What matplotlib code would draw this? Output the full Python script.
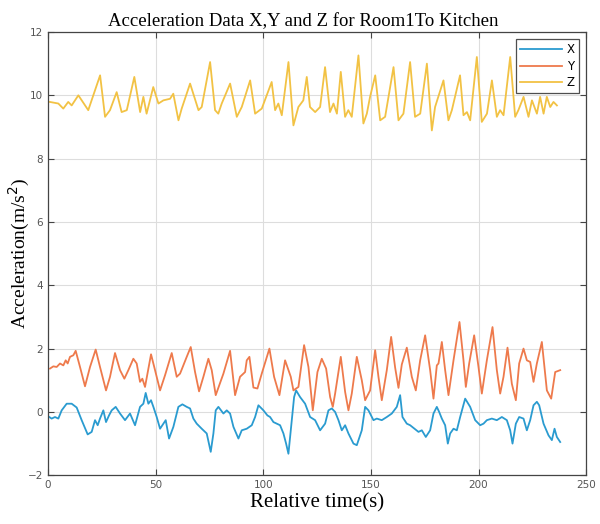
import matplotlib
matplotlib.use("Agg")
import matplotlib.pyplot as plt

# ---- data ----
z_t = [0.9, 4.8, 7.1, 9.4, 11.0, 14.1, 18.7, 24.2, 26.5, 28.8, 31.9, 34.2, 36.6, 40.1, 42.8, 44.3,
       45.8, 48.9, 51.3, 53.6, 56.7, 58.2, 60.6, 62.1, 66.0, 69.9, 71.4, 75.3, 77.6, 79.1, 80.7,
       84.6, 87.7, 90.0, 93.9, 96.2, 99.3, 103.9, 105.5, 107.0, 108.6, 111.7, 114.0, 116.3, 118.6,
       120.2, 121.7, 124.1, 126.4, 128.7, 131.0, 132.6, 134.2, 136.0, 138.0, 139.5, 141.1, 144.2,
       146.5, 148.1, 149.6, 152.0, 154.3, 156.6, 160.5, 162.8, 165.1, 168.2, 170.5, 172.9, 176.0,
       178.3, 179.8, 183.7, 186.0, 187.6, 191.4, 193.0, 194.6, 196.1, 199.2, 201.5, 203.9, 206.2,
       208.5, 210.0, 211.6, 214.7, 217.0, 218.5, 220.9, 223.2, 224.8, 227.1, 228.6, 230.2, 231.7,
       233.3, 234.8, 236.4]
z_v = [9.79, 9.74, 9.58, 9.79, 9.68, 10.0, 9.53, 10.63, 9.32, 9.53, 10.1, 9.47, 9.53, 10.58, 9.47, 9.95,
       9.42, 10.26, 9.74, 9.84, 9.89, 10.05, 9.21, 9.58, 10.37, 9.53, 9.63, 11.05, 9.53, 9.42, 9.74,
       10.37, 9.32, 9.63, 10.47, 9.42, 9.58, 10.42, 9.53, 9.74, 9.37, 11.05, 9.05, 9.63, 9.84,
       10.58, 9.63, 9.47, 9.63, 10.89, 9.47, 9.74, 9.42, 10.74, 9.32, 9.53, 9.32, 11.26,
       9.11, 9.42, 9.95, 10.63, 9.21, 9.32, 10.89, 9.21, 9.42, 11.05, 9.32, 9.42, 11.0,
       8.89, 9.63, 10.47, 9.21, 9.53, 10.63, 9.37, 9.47, 9.21, 11.21, 9.16, 9.42, 10.47,
       9.32, 9.53, 9.37, 11.21, 9.32, 9.53, 9.95, 9.32, 9.84, 9.42, 9.95, 9.42, 9.95,
       9.63, 9.79, 9.68]

y_t = [0.93, 2.48, 4.03, 5.58, 7.13, 8.21, 9.14, 10.22, 11.77, 12.86, 14.87, 17.19, 19.52, 22.15,
       24.16, 26.95, 28.81, 31.13, 33.46, 35.47, 37.33, 39.65, 41.20, 42.75, 43.83, 45.07, 47.86,
       49.72, 52.05, 54.37, 57.47, 59.79, 61.34, 62.11, 64.44, 66.30, 68.31, 70.17, 72.18, 74.50,
       76.05, 77.91, 81.48, 84.58, 86.9, 89.2, 91.55, 92.32, 93.56, 95.42, 97.28, 99.29, 102.85,
       105.02, 107.5, 110.13, 112.77, 114.0, 116.33, 118.96, 120.98, 123.0, 125.16, 127.17,
       129.19, 131.05, 132.29, 133.37, 136.0, 138.02, 139.56, 141.11, 143.44, 145.76, 147.31,
       149.63, 151.96, 153.5, 155.05, 157.38, 159.39, 161.25, 162.8, 164.35, 166.67, 168.99,
       170.85, 172.87, 175.19, 177.51, 179.06, 180.61, 181.39, 182.94, 184.48, 186.03, 188.36,
       191.14, 193.0, 194.09, 195.64, 197.96, 199.97, 201.52, 203.85, 206.48, 208.49, 210.04,
       211.59, 213.45, 215.46, 217.32, 218.87, 220.88, 222.43, 223.98, 225.53, 227.08, 229.4,
       231.73, 233.74, 235.6, 237.92]
y_v = [1.37, 1.44, 1.42, 1.53, 1.47, 1.63, 1.53, 1.74, 1.79, 1.93, 1.42, 0.81, 1.42, 1.97,
       1.42, 0.68, 1.11, 1.86, 1.32, 1.05, 1.32, 1.68, 1.53, 0.95, 1.05, 0.79, 1.82,
       1.32, 0.68, 1.16, 1.86, 1.11, 1.21, 1.34, 1.74, 2.05, 1.26, 0.65, 1.11, 1.68,
       1.32, 0.53, 1.21, 1.93, 0.53, 1.11, 1.26, 1.63, 1.74, 0.77, 0.74, 1.21, 2.0,
       1.11, 0.53, 1.63, 1.11, 0.68, 0.79, 2.11, 1.42, 0.05, 1.26, 1.68,
       1.37, 0.47, 0.16, 0.58, 1.74, 0.63, 0.05, 0.58, 1.74, 1.0, 0.37,
       0.68, 1.95, 1.11, 0.37, 1.32, 2.37, 1.4, 0.76, 1.5, 2.03, 1.11,
       0.68, 1.63, 2.42, 1.32, 0.42, 1.47, 1.53, 2.21, 1.32, 0.53, 1.63,
       2.84, 1.63, 0.79, 1.53, 2.42, 1.42, 0.58, 1.63, 2.68, 1.32, 0.58,
       1.11, 2.03, 0.89, 0.37, 1.53, 2.0, 1.63, 1.58, 0.95, 1.53, 2.21,
       0.68, 0.42, 1.26, 1.32]

x_t = [0.15, 1.70, 3.25, 4.80, 6.35, 8.67, 11.0, 13.32, 15.64, 18.43, 20.29, 21.84, 23.08, 24.16,
       25.71, 26.95, 28.35, 29.58, 31.44, 33.46, 35.78, 38.10, 40.43, 42.75, 44.30, 45.38, 46.62,
       47.86, 48.95, 50.50, 52.05, 53.60, 54.68, 56.23, 58.24, 60.56, 62.42, 64.44, 65.99, 67.53,
       69.08, 71.41, 73.73, 75.59, 76.83, 77.91, 79.15, 81.48, 83.03, 84.58, 86.13, 88.45, 90.0,
       92.32, 94.65, 96.2, 97.74, 100.07, 101.92, 103.16, 104.71, 106.26, 107.81, 109.36, 110.6,
       111.68, 113.23, 114.32, 115.25, 117.1, 119.43, 121.75, 124.07, 126.4, 128.72, 130.27,
       131.82, 133.37, 134.92, 136.47, 138.02, 139.56, 141.89, 143.44, 145.76, 147.31, 148.86,
       151.18, 152.73, 155.05, 157.38, 159.7, 162.02, 163.57, 164.66, 166.67, 168.22, 170.23,
       172.09, 173.64, 175.5, 177.51, 179.06, 180.61, 181.7, 182.94, 184.48, 185.72, 186.81,
       188.36, 189.91, 191.45, 193.78, 196.1, 198.43, 200.75, 202.3, 203.85, 206.17, 208.49,
       210.82, 213.14, 214.69, 215.77, 217.32, 218.87, 220.88, 222.43, 223.98, 225.53, 227.08,
       228.16, 230.18, 232.5, 234.05, 235.29, 236.37, 237.92]
x_v = [-0.14, -0.21, -0.16, -0.21, 0.05, 0.26, 0.26, 0.14, -0.26, -0.71, -0.63, -0.26, -0.42, -0.21,
       0.05, -0.32, -0.11, 0.05, 0.16, -0.05, -0.26, -0.05, -0.42, 0.16, 0.26, 0.6, 0.26,
       0.37, 0.16, -0.16, -0.53, -0.37, -0.26, -0.84, -0.47, 0.16, 0.24, 0.16, 0.11, -0.21,
       -0.37, -0.53, -0.68, -1.26, -0.68, 0.05, 0.16, -0.05, 0.05, -0.05, -0.47, -0.84, -0.58,
       -0.53, -0.42, -0.16, 0.21, 0.05, -0.11, -0.16, -0.32, -0.37, -0.42, -0.68, -1.0,
       -1.32, -0.26, 0.47, 0.68, 0.47, 0.26, -0.16, -0.26, -0.58, -0.37, 0.05,
       0.11, 0.0, -0.26, -0.58, -0.42, -0.68, -1.0, -1.05, -0.58, 0.16, 0.05,
       -0.26, -0.21, -0.26, -0.16, -0.05, 0.16, 0.53, -0.16, -0.37, -0.42, -0.53,
       -0.63, -0.58, -0.79, -0.58, -0.05, 0.16, 0.0, -0.21, -0.42, -1.0, -0.68,
       -0.53, -0.58, -0.16, 0.42, 0.16, -0.26, -0.42, -0.37, -0.26, -0.21, -0.26,
       -0.16, -0.26, -0.58, -1.0, -0.37, -0.16, -0.21, -0.58, -0.26, 0.21, 0.32,
       0.21, -0.37, -0.74, -0.89, -0.53, -0.79, -0.95]

series_labels = ["X", "Y", "Z"]
x_ticks = [0, 50, 100, 150, 200, 250]
y_ticks = [-2, 0, 2, 4, 6, 8, 10, 12]

# ---- figure ----
fig = plt.figure(figsize=(6.0, 5.24), dpi=100)
ax = fig.add_axes([0.08, 0.093, 0.897, 0.846])

colors = ["#2a9bd0", "#ee7a4c", "#f2c244"]
ax.plot(x_t, x_v, color=colors[0], lw=1.3, label=series_labels[0])
ax.plot(y_t, y_v, color=colors[1], lw=1.3, label=series_labels[1])
ax.plot(z_t, z_v, color=colors[2], lw=1.3, label=series_labels[2])

ax.set_xlim(0, 250)
ax.set_ylim(-2, 12)
ax.set_xticks(x_ticks)
ax.set_yticks(y_ticks)
ax.grid(True, color="#dddddd", lw=0.8)
ax.set_axisbelow(True)
ax.tick_params(direction="in", top=True, right=True, length=4, width=0.8,
               labelsize=7.5, labelcolor="#555555", colors="#444444")
for s in ax.spines.values():
    s.set_color("#444444")
    s.set_linewidth(0.9)

serif = ["Liberation Serif", "DejaVu Serif"]
ax.set_title("Acceleration Data X,Y and Z for Room1To Kitchen", family=serif,
             fontsize=13.5, pad=4, x=0.475)
ax.set_xlabel("Relative time(s)", family=serif, fontsize=15, labelpad=2)
ax.set_ylabel("Acceleration(m/s$^2$)", family=serif, fontsize=14)
ax.yaxis.set_label_coords(-0.03, 0.5)

leg = ax.legend(loc="upper right", fontsize=8.5, frameon=True, fancybox=False,
                edgecolor="#222222", handlelength=3.6, borderaxespad=0.6,
                labelspacing=0.3, handletextpad=0.4, borderpad=0.35)
leg.get_frame().set_linewidth(0.9)

fig.savefig("out.png", dpi=100)
